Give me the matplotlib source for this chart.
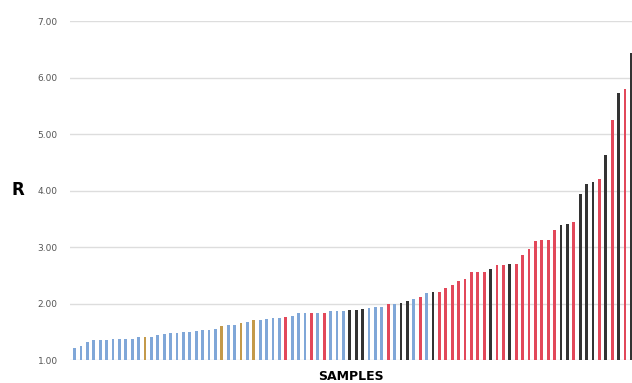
import matplotlib.pyplot as plt
import numpy as np

# R value per sample (sorted)
r_values = [1.22, 1.25, 1.32, 1.35, 1.35, 1.35, 1.37, 1.37, 1.38, 1.38,
            1.40, 1.41, 1.41, 1.45, 1.46, 1.48, 1.48, 1.50, 1.50, 1.51,
            1.53, 1.53, 1.55, 1.60, 1.62, 1.62, 1.66, 1.68, 1.71, 1.71,
            1.73, 1.75, 1.75, 1.76, 1.78, 1.83, 1.83, 1.83, 1.84, 1.84,
            1.87, 1.87, 1.87, 1.88, 1.89, 1.91, 1.92, 1.94, 1.94, 1.99,
            2.00, 2.01, 2.04, 2.08, 2.12, 2.19, 2.20, 2.21, 2.27, 2.33,
            2.40, 2.43, 2.56, 2.56, 2.56, 2.62, 2.68, 2.68, 2.70, 2.70,
            2.86, 2.96, 3.11, 3.12, 3.12, 3.30, 3.39, 3.41, 3.44, 3.94,
            4.11, 4.16, 4.21, 4.63, 5.25, 5.73, 5.80, 6.43]

# group of each sample: b = blue, o = orange, r = red, k = black
groups = list("bbbbbbbbbbbobbbbbbbbbbbobbobobbbbrbbbrbrbbbkkkbbbrbkkbrbkrrrrrrrrkrrkrrrrrrrkkrkkkrkrkrk")

palette = {'b': '#80a7d8', 'o': '#c49a4a', 'r': '#e2485a', 'k': '#333333'}
colors = [palette[g] for g in groups]

fig = plt.figure(figsize=(6.32, 3.83), dpi=100)
ax = fig.add_axes([0.111, 0.060, 0.889, 0.885])

x = np.arange(len(r_values))
base = 1.0
ax.bar(x, np.array(r_values) - base, bottom=base, width=0.45, color=colors, zorder=3)

ax.set_ylim(1, 7)
ax.set_xlim(-0.7, 87.1)
ax.set_yticks([1, 2, 3, 4, 5, 6, 7])
ax.set_yticklabels([f'{v:.2f}' for v in range(1, 8)])
ax.set_xticks([])
ax.grid(axis='y', color='#dddddd', linewidth=1, zorder=0)
for s in ax.spines.values():
    s.set_visible(False)
ax.tick_params(axis='y', length=0, pad=9, labelsize=6.5, labelcolor='#555555')

fig.text(0.028, 0.505, 'R', fontsize=12, fontweight='bold', ha='center', va='center')
fig.text(0.555, 0.018, 'SAMPLES', fontsize=9, fontweight='bold', ha='center', va='center')

plt.savefig('out.png', dpi=100)
